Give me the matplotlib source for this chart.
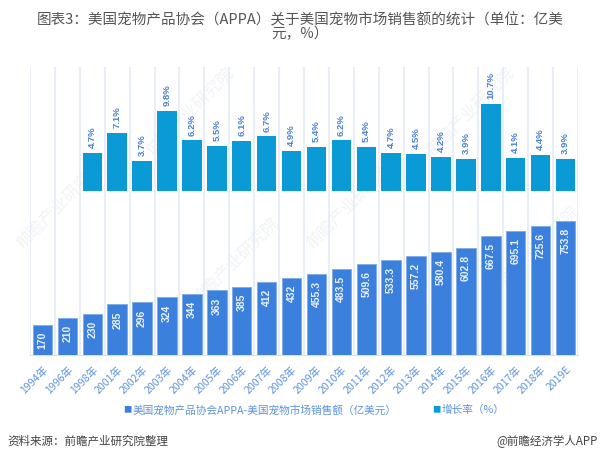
from matplotlib import pyplot as plt
import numpy as np

plt.rcParams['font.family'] = ['Noto Sans CJK SC', 'DejaVu Sans']

years = ['1994年', '1996年', '1998年', '2001年', '2002年', '2003年', '2004年', '2005年',
         '2006年', '2007年', '2008年', '2009年', '2010年', '2011年', '2012年', '2013年',
         '2014年', '2015年', '2016年', '2017年', '2018年', '2019E']
sales = [170, 210, 230, 285, 296, 324, 344, 363, 385, 412, 432, 455.3, 483.5, 509.6,
         533.3, 557.2, 580.4, 602.8, 667.5, 695.1, 725.6, 753.8]
sales_labels = ['170', '210', '230', '285', '296', '324', '344', '363', '385', '412', '432',
                '455.3', '483.5', '509.6', '533.3', '557.2', '580.4', '602.8', '667.5',
                '695.1', '725.6', '753.8']
growth = [np.nan, np.nan, 4.7, 7.1, 3.7, 9.8, 6.2, 5.5, 6.1, 6.7, 4.9, 5.4, 6.2, 5.4, 4.7,
          4.5, 4.2, 3.9, 10.7, 4.1, 4.4, 3.9]

W, H = 600, 457
left, right, top, base = 30, 578, 67, 355

fig = plt.figure(figsize=(6, 4.57), dpi=100)
ax = fig.add_axes([left / W, 1 - base / H, (right - left) / W, (base - top) / H])
ax2 = ax.twinx()
# keep the bars above the faint watermark
ax.set_zorder(2)
ax2.set_zorder(3)
ax.patch.set_visible(False)
ax2.patch.set_visible(False)

x = np.arange(len(years))
ax.bar(x, sales, width=0.78, color='#3c80de', edgecolor='#7fa9e8', linewidth=0.6, zorder=3)
ax2.bar(x, growth, width=0.78, color='#0a9ad6', zorder=3)

ax.set_xlim(-0.5, len(years) - 0.5)
ax.set_ylim(0, 1620)
ax2.set_ylim(-20.12, 15.21)
ax.set_yticks([])
ax2.set_yticks([])

ax.set_xticks(np.arange(len(years) + 1) - 0.5, minor=True)
ax.grid(which='minor', axis='x', color='#e3ebf6', linewidth=1.2, zorder=0)
ax.tick_params(which='both', length=0)
ax.set_xticks(x)
ax.set_xticklabels(years, rotation=45, ha='right', rotation_mode='anchor',
                   fontsize=7.6, color='#5f93dc')
ax.tick_params(axis='x', pad=7)

for side in ['top', 'left', 'right']:
    ax.spines[side].set_visible(False)
    ax2.spines[side].set_visible(False)
ax.spines['bottom'].set_color('#d5e2f3')
ax2.spines['bottom'].set_visible(False)

for i, v in enumerate(sales):
    ax.annotate(sales_labels[i], (i, v), xytext=(0, -5), textcoords='offset points',
                rotation=90, ha='center', va='top', fontsize=7.5, color='#e8f0fb', zorder=4,
                family='Liberation Sans', fontweight='bold')
for i, v in enumerate(growth):
    if not np.isnan(v):
        ax2.annotate(f'{v}%', (i, v), xytext=(0, 3.5), textcoords='offset points',
                     rotation=90, ha='center', va='bottom', fontsize=6.8, color='#4b80d2',
                     family='Liberation Sans', fontweight='bold')

# watermarks
for wx, wy in [(190, 112), (470, 112), (235, 262), (60, 205), (350, 205), (535, 250)]:
    fig.text(wx / W, 1 - wy / H, '前瞻产业研究院', rotation=45, fontsize=12, color='#f1f3f6',
             ha='center', va='center', zorder=0)

fig.text(300 / W, 1 - 20 / H, '图表3：美国宠物产品协会（APPA）关于美国宠物市场销售额的统计（单位：亿美',
         fontsize=10.5, color='#555555', ha='center', va='center')
fig.text(300 / W, 1 - 34 / H, '元，%）', fontsize=10.5, color='#555555', ha='center', va='center')

# legend
fig.text(127 / W, 1 - 410 / H, '■', fontsize=6, color='#3c80de', ha='center', va='center')
fig.text(133 / W, 1 - 410 / H, '美国宠物产品协会APPA-美国宠物市场销售额（亿美元）', fontsize=7.7,
         color='#5f93dc', ha='left', va='center')
fig.text(436 / W, 1 - 410 / H, '■', fontsize=6, color='#0a9ad6', ha='center', va='center')
fig.text(442 / W, 1 - 410 / H, '增长率（%）', fontsize=7.7, color='#5f93dc', ha='left', va='center')

fig.text(7 / W, 1 - 441 / H, '资料来源：前瞻产业研究院整理', fontsize=8.3, color='#444444',
         ha='left', va='center')
fig.text(598 / W, 1 - 441 / H, '@前瞻经济学人APP', fontsize=8.3, color='#444444',
         ha='right', va='center')

plt.savefig('out.png', dpi=100)
